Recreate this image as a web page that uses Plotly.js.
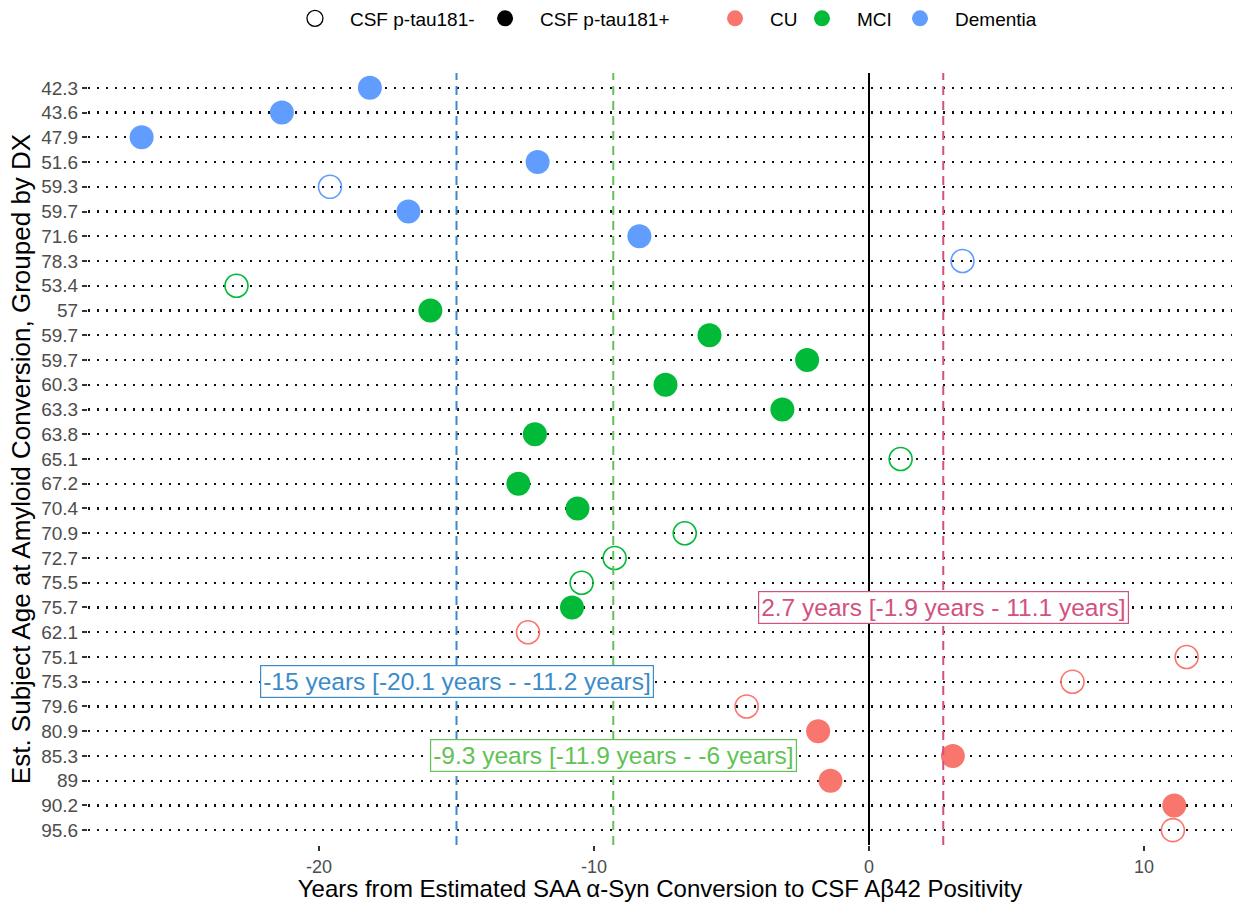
<!DOCTYPE html>
<html>
<head>
<meta charset="utf-8">
<script src="https://cdn.plot.ly/plotly-3.0.1.min.js"></script>
<style>html,body{margin:0;padding:0;background:#fff;}#chart{width:1239px;height:902px;}</style>
</head>
<body>
<div id="chart"></div>
<script>
// Row labels (top to bottom): estimated subject age at amyloid conversion
const ageLabels = ["42.3","43.6","47.9","51.6","59.3","59.7","71.6","78.3",
  "53.4","57","59.7","59.7","60.3","63.3","63.8","65.1","67.2","70.4","70.9","72.7","75.5","75.7",
  "62.1","75.1","75.3","79.6","80.9","85.3","89","90.2","95.6"];
// Years from SAA conversion to CSF Abeta42 positivity
const yearsValues = [-18.15,-21.35,-26.45,-12.05,-19.6,-16.75,-8.35,3.4,
  -23.0,-15.95,-5.8,-2.25,-7.4,-3.15,-12.15,1.15,-12.75,-10.6,-6.7,-9.25,-10.45,-10.8,
  -12.4,11.55,7.4,-4.45,-1.85,3.05,-1.4,11.1,11.05];
const dxGroup = ["Dementia","Dementia","Dementia","Dementia","Dementia","Dementia","Dementia","Dementia",
  "MCI","MCI","MCI","MCI","MCI","MCI","MCI","MCI","MCI","MCI","MCI","MCI","MCI","MCI",
  "CU","CU","CU","CU","CU","CU","CU","CU","CU"];
const tauPositive = [true,true,true,true,false,true,true,false,
  false,true,true,true,true,true,true,false,true,true,false,false,false,true,
  false,false,false,false,true,true,true,true,false];

const dxNames = ["CU","MCI","Dementia"];
const dxColors = {"CU":"#F8766D","MCI":"#00BA38","Dementia":"#619CFF"};
// Group medians and intervals
const medianDx = ["Dementia","MCI","CU"];
const medianValues = [-15, -9.3, 2.7];
const medianLabels = ["-15 years [-20.1 years - -11.2 years]","-9.3 years [-11.9 years - -6 years]","2.7 years [-1.9 years - 11.1 years]"];
const medianLabelRows = [24, 27, 21];
const medianLineColors = {"Dementia":"#3B8BCB","MCI":"#62C256","CU":"#D2517F"};
const tauNames = ["CSF p-tau181-","CSF p-tau181+"];

const FONT = "Liberation Sans, Arial, sans-serif";
const rowIdx = ageLabels.map((_, i) => i);
const traces = [];
dxNames.forEach(dx => {
  [true,false].forEach(pos => {
    const xs = [], ys = [];
    yearsValues.forEach((v,i) => { if (dxGroup[i]===dx && tauPositive[i]===pos) { xs.push(v); ys.push(i); } });
    traces.push({
      type:"scatter", mode:"markers", x:xs, y:ys, showlegend:false, hoverinfo:"x+y",
      marker: pos ? {symbol:"circle", size:24, color:dxColors[dx], line:{width:0}}
                  : {symbol:"circle-open", size:23, color:dxColors[dx], line:{width:1.6}}
    });
  });
});
// legend entries, each in its own legend box so they can be spaced like the reference
const legendIds = ["legend","legend2","legend3","legend4","legend5"];
const legendX = [0.1678, 0.334, 0.535, 0.611, 0.6967];
const legendEntries = [
  {name:tauNames[0], marker:{symbol:"circle-open", size:20, color:"#000", line:{width:1.3}}},
  {name:tauNames[1], marker:{symbol:"circle", size:20, color:"#000"}}
].concat(dxNames.map(dx => ({name:dx, marker:{symbol:"circle", size:20, color:dxColors[dx]}})));
legendEntries.forEach((e,k) => {
  traces.push({type:"scatter", mode:"markers", x:[null], y:[null], name:e.name, legend:legendIds[k], marker:e.marker});
});

const shapes = [{type:"line", xref:"x", yref:"paper", x0:0, x1:0, y0:0, y1:1, line:{color:"#000", width:2}, layer:"above"}];
const annotations = [];
medianValues.forEach((v,k) => {
  const c = medianLineColors[medianDx[k]];
  shapes.push({type:"line", xref:"x", yref:"paper", x0:v, x1:v, y0:0, y1:1, line:{color:c, width:2, dash:"9px,6px"}, layer:"above"});
  annotations.push({x:v, y:medianLabelRows[k], xref:"x", yref:"y", text:medianLabels[k], showarrow:false,
    font:{size:24.5, color:c, family:FONT}, bgcolor:"#fff", bordercolor:c, borderwidth:1.2, borderpad:2});
});

const layout = {
  width:1239, height:902,
  margin:{l:88, r:7, t:73, b:57, autoexpand:false},
  paper_bgcolor:"#fff", plot_bgcolor:"#fff",
  font:{family:FONT, color:"#000"},
  xaxis:{range:[-28.4,13.2], tickvals:[-20,-10,0,10], ticktext:["-20","-10","0","10"], showgrid:false, zeroline:false,
    ticks:"outside", ticklen:5, tickwidth:2, tickcolor:"#333", tickfont:{size:18, color:"#4D4D4D"},
    title:{text:"Years from Estimated SAA α-Syn Conversion to CSF Aβ42 Positivity", font:{size:24, color:"#000"}, standoff:3}},
  yaxis:{range:[30.6,-0.6], tickvals:rowIdx, ticktext:ageLabels, showgrid:true, gridcolor:"#111", gridwidth:2.2, griddash:"2px,7px",
    zeroline:false, ticks:"outside", ticklen:5, tickwidth:2, tickcolor:"#333", tickfont:{size:19, color:"#4D4D4D"},
    title:{text:"Est. Subject Age at Amyloid Conversion, Grouped by DX", font:{size:26, color:"#000"}, standoff:3}},
  showlegend:true,
  shapes:shapes, annotations:annotations
};
legendIds.forEach((id,k) => {
  layout[id] = {orientation:"h", x:legendX[k], xanchor:"left", y:1.0706, yanchor:"middle", itemwidth:60,
    font:{size:19, color:"#000"}, bgcolor:"rgba(0,0,0,0)"};
});
Plotly.newPlot("chart", traces, layout, {displayModeBar:false, staticPlot:true});
</script>
</body>
</html>
